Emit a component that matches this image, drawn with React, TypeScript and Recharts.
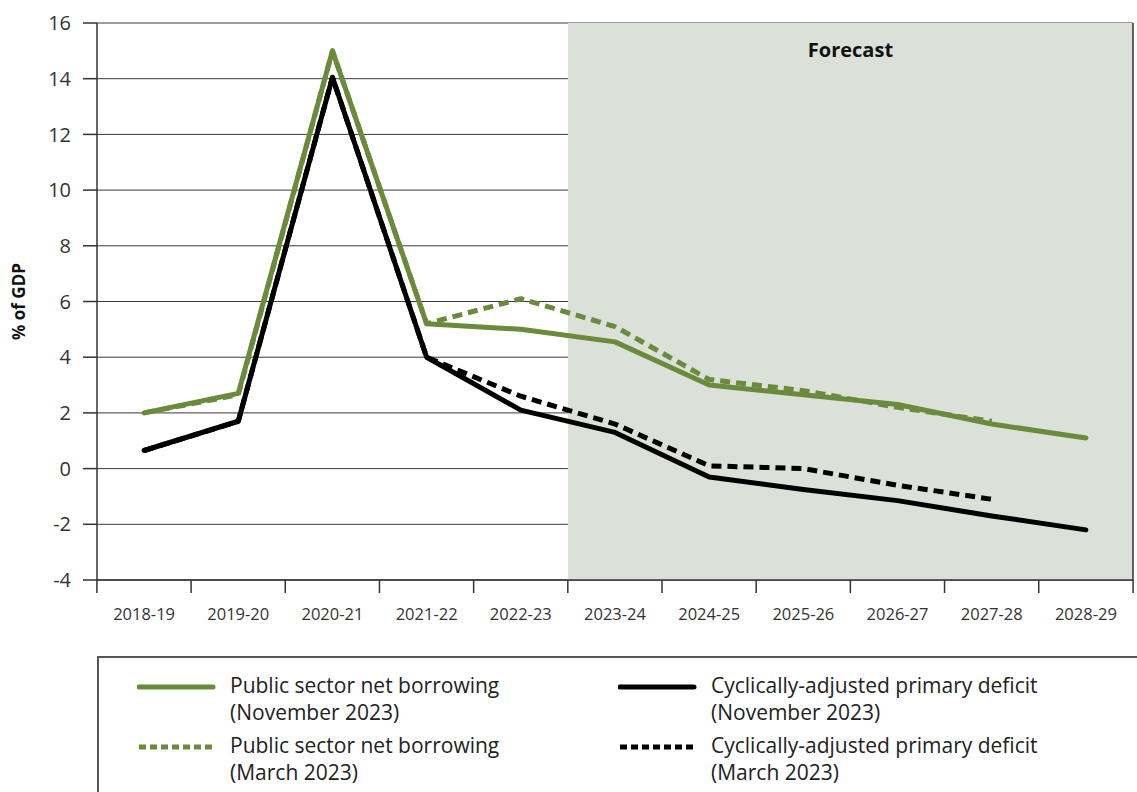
import React from "react";
import {
  LineChart,
  Line,
  XAxis,
  YAxis,
  CartesianGrid,
  ReferenceArea,
} from "recharts";

const years = [
  "2018-19",
  "2019-20",
  "2020-21",
  "2021-22",
  "2022-23",
  "2023-24",
  "2024-25",
  "2025-26",
  "2026-27",
  "2027-28",
  "2028-29",
];
const forecastFrom = "2023-24";

// % of GDP
const psnbNov = [2.0, 2.7, 15.0, 5.2, 5.0, 4.55, 3.0, 2.65, 2.3, 1.6, 1.1];
const psnbMar = [2.0, 2.65, 15.0, 5.2, 6.1, 5.1, 3.2, 2.8, 2.2, 1.7, null];
const capdNov = [0.65, 1.7, 14.05, 4.0, 2.1, 1.3, -0.3, -0.75, -1.15, -1.7, -2.2];
const capdMar = [0.65, 1.7, 14.05, 4.0, 2.6, 1.6, 0.1, 0.0, -0.6, -1.1, null];

const yTicks = [-4, -2, 0, 2, 4, 6, 8, 10, 12, 14, 16];

// numeric x position = index of the year, so that boundaries fall on i - 0.5
const data = years.map((year, i) => ({
  idx: i,
  year,
  psnbNov: psnbNov[i],
  psnbMar: psnbMar[i],
  capdNov: capdNov[i],
  capdMar: capdMar[i],
}));
const xTicks = years.map((_, i) => i);
const forecastStart = years.indexOf(forecastFrom) - 0.5;
const xMax = years.length - 0.5;

const GREEN = "#6a8a3c";
const BLACK = "#000000";
const FONT = "'Open Sans', 'Noto Sans', sans-serif";

const PLOT_LEFT = 97;
const PLOT_RIGHT = 1135;
const STEP = (PLOT_RIGHT - PLOT_LEFT) / years.length;

const legendItems = [
  { label: ["Public sector net borrowing", "(November 2023)"], color: GREEN, dash: undefined },
  { label: ["Cyclically-adjusted primary deficit", "(November 2023)"], color: BLACK, dash: undefined },
  { label: ["Public sector net borrowing", "(March 2023)"], color: GREEN, dash: "7 4" },
  { label: ["Cyclically-adjusted primary deficit", "(March 2023)"], color: BLACK, dash: "7 4" },
];

function XTick(props: any) {
  const { x, y, payload, index } = props;
  return (
    <g>
      <line x1={x - STEP / 2} x2={x - STEP / 2} y1={y} y2={y + 13} stroke="#333" strokeWidth={1.5} />
      {index === years.length - 1 && (
        <line x1={x + STEP / 2} x2={x + STEP / 2} y1={y} y2={y + 13} stroke="#333" strokeWidth={1.5} />
      )}
      <text x={x} y={y + 40} textAnchor="middle" fill="#333" fontSize={16.5} fontFamily={FONT}>
        {years[payload.value]}
      </text>
    </g>
  );
}

export default function App() {
  return (
    <div style={{ position: "absolute", left: 0, top: 0, width: 1137, height: 792, background: "#fff", overflow: "hidden" }}>
      <LineChart
        width={1137}
        height={640}
        data={data}
        margin={{ top: 23, right: 2, left: 0, bottom: 10 }}
      >
        <ReferenceArea
          x1={forecastStart}
          x2={xMax}
          y1={-4}
          y2={16}
          fill="#dbe0d9"
          fillOpacity={1}
          stroke="none"
          label={{
            value: "Forecast",
            position: "insideTop",
            offset: 20,
            fill: "#111",
            fontSize: 20,
            fontWeight: 700,
            fontFamily: FONT,
          }}
        />
        <CartesianGrid vertical={false} stroke="#3a3a3a" strokeWidth={1} />
        <XAxis
          dataKey="idx"
          type="number"
          domain={[-0.5, xMax]}
          ticks={xTicks}
          allowDataOverflow
          tick={<XTick />}
          tickLine={false}
          tickSize={0}
          tickMargin={0}
          height={50}
          axisLine={{ stroke: "#333", strokeWidth: 1.5 }}
          interval={0}
        />
        <YAxis
          domain={[-4, 16]}
          ticks={yTicks}
          width={97}
          tickSize={14}
          tickMargin={12}
          tickLine={{ stroke: "#333", strokeWidth: 1.5 }}
          axisLine={{ stroke: "#333", strokeWidth: 1.5 }}
          tick={{ fill: "#333", fontSize: 20, fontFamily: FONT }}
          label={{
            value: "% of GDP",
            angle: -90,
            position: "insideLeft",
            offset: 0,
            dx: 19,
            fill: "#111",
            fontSize: 17,
            fontWeight: 700,
            fontFamily: FONT,
            style: { textAnchor: "middle" },
          }}
        />
        <YAxis
          yAxisId="right"
          orientation="right"
          width={2}
          tick={false}
          tickLine={false}
          axisLine={{ stroke: "#333", strokeWidth: 1.5 }}
        />
        <Line
          dataKey="psnbNov"
          stroke={GREEN}
          strokeWidth={5}
          dot={false}
          strokeLinecap="round"
          strokeLinejoin="round"
          isAnimationActive={false}
        />
        <Line
          dataKey="psnbMar"
          stroke={GREEN}
          strokeWidth={5}
          strokeDasharray="10 6"
          dot={false}
          strokeLinejoin="round"
          isAnimationActive={false}
        />
        <Line
          dataKey="capdNov"
          stroke={BLACK}
          strokeWidth={5}
          dot={false}
          strokeLinecap="round"
          strokeLinejoin="round"
          isAnimationActive={false}
        />
        <Line
          dataKey="capdMar"
          stroke={BLACK}
          strokeWidth={5}
          strokeDasharray="10 6"
          dot={false}
          strokeLinejoin="round"
          isAnimationActive={false}
        />
      </LineChart>
      <div
        style={{
          position: "absolute",
          left: 97,
          top: 656,
          width: 1050,
          height: 150,
          border: "2px solid #555",
          boxSizing: "border-box",
          fontFamily: FONT,
          fontSize: 21,
          color: "#222",
        }}
      >
        {legendItems.map((item, i) => {
          const col = i % 2;
          const row = Math.floor(i / 2);
          return (
            <div
              key={i}
              style={{
                position: "absolute",
                left: col === 0 ? 38 : 519,
                top: 14 + row * 60,
                display: "flex",
                alignItems: "flex-start",
              }}
            >
              <svg width={80} height={28} style={{ flex: "none" }}>
                <line
                  x1={2}
                  x2={76}
                  y1={15}
                  y2={15}
                  stroke={item.color}
                  strokeWidth={5}
                  strokeDasharray={item.dash}
                  strokeLinecap={item.dash ? "butt" : "round"}
                />
              </svg>
              <div style={{ marginLeft: 13, lineHeight: "27px" }}>
                <div>{item.label[0]}</div>
                <div>{item.label[1]}</div>
              </div>
            </div>
          );
        })}
      </div>
    </div>
  );
}
